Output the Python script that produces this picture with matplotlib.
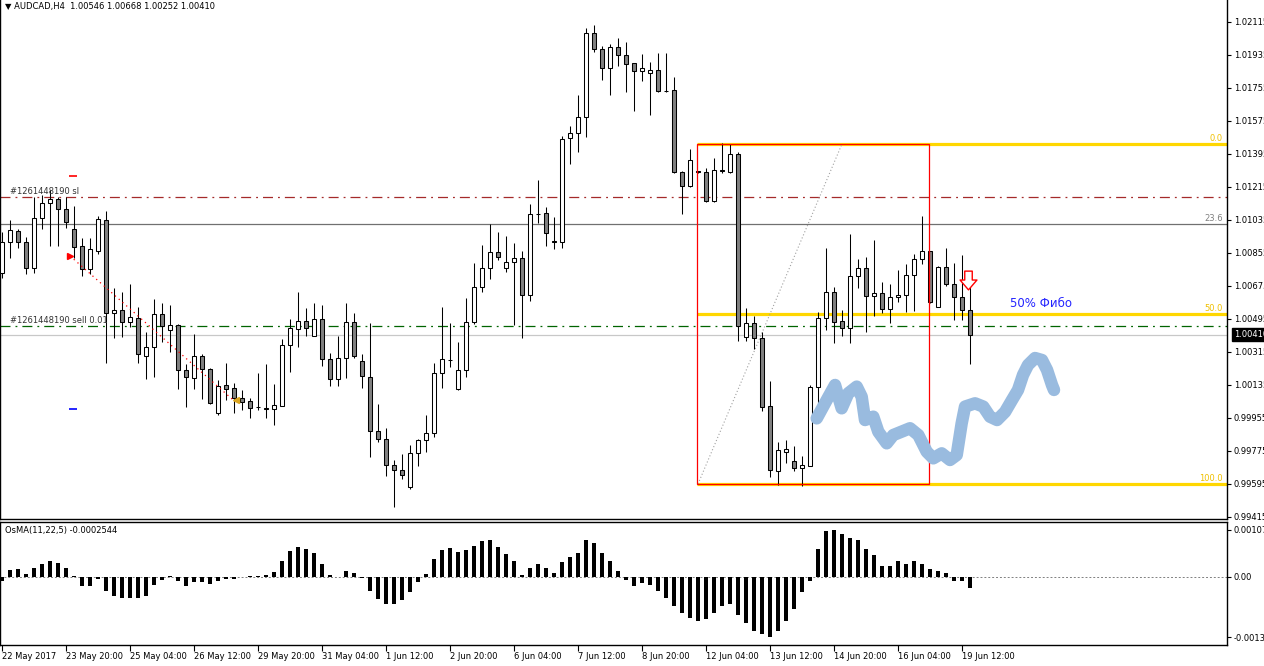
import numpy as np
import pandas as pd
import matplotlib
matplotlib.use('Agg')
import matplotlib.pyplot as plt
from matplotlib.path import Path
from matplotlib.patches import Rectangle

# ---- data (AUDCAD H4) ----
symbol = 'AUDCAD,H4'
opens = [1.00744, 1.00913, 1.00975, 1.00913, 1.00775, 1.01044, 1.01126, 1.01148, 1.01093, 1.00984,
         1.00893, 1.00766, 1.00868, 1.01035, 1.00526, 1.00544, 1.00477, 1.00499, 1.00295, 1.00341,
         1.00521, 1.00435, 1.00462, 1.00217, 1.00172, 1.00293, 1.00221, 0.99981, 1.00133, 1.00117,
         1.00066, 1.00048, 1.00017, 1.00008, 1.00002, 1.00022, 1.00353, 1.00440, 1.00484, 1.00402,
         1.00493, 1.00275, 1.00166, 1.00281, 1.00477, 1.00264, 1.00177, 0.99882, 0.99839, 0.99697,
         0.99670, 0.99580, 0.99762, 0.99835, 0.99871, 1.00199, 1.00274, 1.00112, 1.00215, 1.00477,
         1.00668, 1.00772, 1.00859, 1.00772, 1.00804, 1.00826, 1.00624, 1.01069, 1.01072, 1.00918,
         1.00913, 1.01481, 1.01508, 1.01595, 1.02053, 1.01966, 1.01862, 1.01977, 1.01933, 1.01890,
         1.01849, 1.01835, 1.01852, 1.01739, 1.01742, 1.01298, 1.01220, 1.01301, 1.01298, 1.01137,
         1.01305, 1.01298, 1.01395, 1.00395, 1.00472, 1.00390, 1.00020, 0.99664, 0.99771, 0.99720,
         0.99681, 0.99695, 1.00122, 1.00499, 1.00641, 1.00484, 1.00444, 1.00730, 1.00772, 1.00620,
         1.00635, 1.00548, 1.00613, 1.00626, 1.00735, 1.00821, 1.00864, 1.00559, 1.00777, 1.00684,
         1.00613, 1.00546]
highs = [1.00970, 1.01035, 1.00984, 1.00944, 1.01162, 1.01171, 1.01199, 1.01162, 1.01162, 1.01111,
         1.00935, 1.00935, 1.01057, 1.01086, 1.00666, 1.00641, 1.00686, 1.00562, 1.00426, 1.00602,
         1.00584, 1.00571, 1.00466, 1.00248, 1.00412, 1.00303, 1.00226, 1.00162, 1.00257, 1.00144,
         1.00108, 1.00066, 1.00202, 1.00250, 1.00140, 1.00384, 1.00493, 1.00641, 1.00553, 1.00584,
         1.00571, 1.00311, 1.00404, 1.00584, 1.00526, 1.00304, 1.00472, 1.00031, 0.99899, 0.99726,
         0.99759, 0.99808, 0.99840, 0.99971, 1.00253, 1.00560, 1.00472, 1.00370, 1.00610, 1.00800,
         1.00899, 1.01013, 1.00970, 1.00948, 1.00910, 1.00866, 1.01122, 1.01253, 1.01108, 1.01053,
         1.01493, 1.01548, 1.01717, 1.02081, 1.02099, 1.01984, 1.01995, 1.02026, 1.02004, 1.01890,
         1.01940, 1.01895, 1.01944, 1.01944, 1.01813, 1.01304, 1.01421, 1.01303, 1.01317, 1.01375,
         1.01457, 1.01450, 1.01404, 1.00553, 1.00511, 1.00422, 1.00158, 0.99824, 0.99835, 0.99802,
         0.99748, 1.00135, 1.00533, 1.00884, 1.00671, 1.00544, 1.00959, 1.00821, 1.00832, 1.00926,
         1.00695, 1.00684, 1.00762, 1.00795, 1.00848, 1.01057, 1.00866, 1.00784, 1.00884, 1.00802,
         1.00844, 1.00668]
lows = [1.00719, 1.00829, 1.00884, 1.00739, 1.00744, 1.00986, 1.00895, 1.00895, 1.00990, 1.00826,
        1.00731, 1.00740, 1.00850, 1.00257, 1.00393, 1.00399, 1.00453, 1.00257, 1.00166, 1.00180,
        1.00368, 1.00317, 1.00112, 1.00013, 1.00113, 1.00057, 1.00031, 0.99971, 1.00053, 0.99984,
        0.99999, 0.99953, 0.99999, 0.99953, 0.99917, 1.00020, 1.00208, 1.00344, 1.00402, 1.00400,
        1.00239, 1.00131, 1.00131, 1.00175, 1.00284, 1.00120, 0.99741, 0.99826, 0.99640, 0.99468,
        0.99621, 0.99569, 0.99695, 0.99768, 0.99853, 1.00120, 1.00235, 1.00110, 1.00180, 1.00466,
        1.00644, 1.00715, 1.00817, 1.00753, 1.00462, 1.00393, 1.00595, 1.01020, 1.00895, 1.00878,
        1.00884, 1.01339, 1.01408, 1.01486, 1.01950, 1.01799, 1.01717, 1.01877, 1.01735, 1.01631,
        1.01795, 1.01609, 1.01735, 1.01733, 1.01290, 1.01066, 1.01213, 1.01294, 1.01135, 1.01135,
        1.01290, 1.01293, 1.00377, 1.00377, 1.00333, 0.99995, 0.99635, 0.99590, 0.99708, 0.99668,
        0.99584, 0.99694, 0.99968, 1.00435, 1.00363, 1.00404, 1.00363, 1.00663, 1.00426, 1.00513,
        1.00529, 1.00475, 1.00589, 1.00535, 1.00540, 1.00795, 1.00584, 1.00558, 1.00677, 1.00490,
        1.00490, 1.00252]
closes = [1.00917, 1.00980, 1.00913, 1.00772, 1.01044, 1.01126, 1.01148, 1.01093, 1.01026, 1.00889,
          1.00766, 1.00875, 1.01039, 1.00526, 1.00544, 1.00477, 1.00504, 1.00303, 1.00341, 1.00521,
          1.00457, 1.00462, 1.00217, 1.00177, 1.00293, 1.00221, 1.00035, 1.00130, 1.00112, 1.00066,
          1.00044, 1.00011, 1.00016, 1.00004, 1.00024, 1.00353, 1.00444, 1.00484, 1.00448, 1.00493,
          1.00275, 1.00166, 1.00281, 1.00479, 1.00295, 1.00182, 0.99882, 0.99839, 0.99697, 0.99670,
          0.99642, 0.99762, 0.99835, 0.99871, 1.00199, 1.00275, 1.00271, 1.00215, 1.00477, 1.00668,
          1.00772, 1.00859, 1.00832, 1.00804, 1.00826, 1.00624, 1.01066, 1.01066, 1.00962, 1.00917,
          1.01475, 1.01508, 1.01595, 1.02053, 1.01966, 1.01862, 1.01977, 1.01933, 1.01884, 1.01849,
          1.01862, 1.01852, 1.01737, 1.01736, 1.01298, 1.01220, 1.01361, 1.01297, 1.01137, 1.01308,
          1.01302, 1.01395, 1.00458, 1.00472, 1.00390, 1.00013, 0.99670, 0.99780, 0.99784, 0.99681,
          0.99699, 1.00122, 1.00499, 1.00641, 1.00477, 1.00444, 1.00730, 1.00772, 1.00620, 1.00635,
          1.00548, 1.00613, 1.00626, 1.00735, 1.00821, 1.00864, 1.00586, 1.00777, 1.00684, 1.00613,
          1.00546, 1.00410]
osma = [-0.00010, 0.00015, 0.00017, 0.00007, 0.00020, 0.00029, 0.00037, 0.00032, 0.00020, 0.00001,
        -0.00021, -0.00021, -0.00005, -0.00032, -0.00045, -0.00048, -0.00048, -0.00049, -0.00043, -0.00018,
        -0.00007, 0.00002, -0.00009, -0.00021, -0.00012, -0.00012, -0.00017, -0.00010, -0.00006, -0.00005,
        -0.00001, 0.00001, 0.00002, 0.00005, 0.00010, 0.00037, 0.00058, 0.00067, 0.00064, 0.00055,
        0.00028, 0.00005, -0.00001, 0.00012, 0.00008, -0.00003, -0.00032, -0.00051, -0.00062, -0.00062,
        -0.00054, -0.00034, -0.00012, 0.00007, 0.00041, 0.00062, 0.00066, 0.00057, 0.00060, 0.00071,
        0.00081, 0.00084, 0.00069, 0.00051, 0.00035, 0.00005, 0.00020, 0.00028, 0.00020, 0.00008,
        0.00033, 0.00046, 0.00055, 0.00084, 0.00076, 0.00054, 0.00035, 0.00012, -0.00007, -0.00021,
        -0.00014, -0.00020, -0.00032, -0.00049, -0.00067, -0.00083, -0.00094, -0.00101, -0.00096, -0.00083,
        -0.00067, -0.00062, -0.00087, -0.00105, -0.00123, -0.00132, -0.00138, -0.00123, -0.00101, -0.00074,
        -0.00036, -0.00009, 0.00064, 0.00105, 0.00107, 0.00098, 0.00089, 0.00083, 0.00064, 0.00049,
        0.00025, 0.00025, 0.00036, 0.00029, 0.00036, 0.00029, 0.00018, 0.00014, 0.00009, -0.00009,
        -0.00009, -0.0002544]

# chart objects
fib_high = 1.01450
fib_low = 0.99595
fib_levels = [0.0, 23.6, 50.0, 100.0]
fib_start, fib_box_end, fib_anchor_end = 86.9, 115.9, 105.0
sl_price = 1.01160
entry_price = 1.00457
trade_open = (8.5, 1.00839)
trade_close = (28.9, 1.00053)
sl_mark = (8.9, 1.01275)
tp_mark = (8.9, 1.00004)
signal_arrow = (120.8, 1.00705)
note_pos = (126.0, 1.00577)
forecast_x = [101.84, 103.09, 104.13, 104.54, 104.96, 105.79, 106.84, 107.46, 107.88, 108.91,
              109.54, 110.59, 111.41, 113.5, 114.54, 115.59, 116.41, 117.46, 118.5, 119.34,
              119.96, 120.38, 121.63, 122.66, 123.5, 124.38, 125.38, 126.25, 127.0, 127.63,
              128.25, 129.13, 130.0, 130.63, 131.25, 131.5]
forecast_y = [0.99953, 1.00053, 1.00135, 1.00071, 1.00008, 1.00090, 1.00126, 1.00071, 0.99944, 0.99962,
              0.99880, 0.99817, 0.99862, 0.99899, 0.99862, 0.99771, 0.99735, 0.99762, 0.99726, 0.99753,
              0.99926, 1.00017, 1.00035, 1.00017, 0.99962, 0.99944, 0.99988, 1.00053, 1.00108, 1.00190,
              1.00244, 1.00282, 1.00271, 1.00217, 1.00135, 1.00108]

n = len(opens)
idx = np.arange(n)
times = pd.date_range('2017-05-22 12:00', periods=n * 2, freq='4h')
times = times[times.dayofweek < 5][:n]

o = np.array(opens); h = np.array(highs); l = np.array(lows); c = np.array(closes)

W, H = 1264, 666
fig = plt.figure(figsize=(W / 100, H / 100), dpi=100)
ax = fig.add_axes([0, (H - 519) / H, 1227 / W, 519 / H])
ax2 = fig.add_axes([0, (H - 645) / H, 1227 / W, (645 - 522) / H])

xmin, xmax = -0.25, 153.125
lw1 = 0.75

# candles
ax.vlines(idx, l, h, color='black', lw=lw1, zorder=3)
up = c >= o
bottoms = np.minimum(o, c)
heights = np.maximum(np.abs(c - o), 0.000005)
ax.bar(idx, heights, bottom=bottoms, width=0.58,
       color=np.where(up, 'white', '#808080'), edgecolor='black', linewidth=lw1, zorder=4)

# horizontal lines
ax.axhline(sl_price, color='#a52a2a', lw=0.9, ls=(0, (8, 4, 1.5, 4)), zorder=2)
ax.axhline(entry_price, color='#006400', lw=0.9, ls=(0, (8, 4, 1.5, 4)), zorder=2)
ax.axhline(closes[-1], color='#c8c8c8', lw=0.9, zorder=1)
ax.text(1.0, sl_price + 0.00006, '#1261448190 sl', fontsize=6, color='#333333', va='bottom')
ax.text(1.0, entry_price + 0.00006, '#1261448190 sell 0.01', fontsize=6, color='#333333', va='bottom')

# fibonacci
rng = fib_high - fib_low
for lev in fib_levels:
    price = fib_high - rng * lev / 100.0
    if lev == 23.6:
        ax.axhline(price, color='#707070', lw=0.9, zorder=1)
        col = '#808080'
    else:
        ax.plot([fib_start, xmax], [price, price], color='#ffd700', lw=2.3, zorder=2,
                solid_capstyle='butt')
        col = '#f0c000'
    ax.text(152.6, price + 0.00005, f'{lev:.1f}', fontsize=6, color=col, ha='right', va='bottom')
ax.add_patch(Rectangle((fib_start, fib_low), fib_box_end - fib_start, rng,
                       fill=False, ec='red', lw=0.9, zorder=5))
ax.plot([fib_start + 0.1, fib_anchor_end], [fib_low, fib_high], color='#a0a0a0', lw=0.8,
        ls=(0, (1, 2)), zorder=2)

# trade history
ax.plot([trade_open[0], trade_close[0]], [trade_open[1], trade_close[1]], color='red', lw=0.9,
        ls=(0, (1, 3)), zorder=5)
ax.plot(*trade_open, marker='>', color='red', ms=5, zorder=6)
ax.plot(trade_close[0] + 0.3, trade_close[1], marker='<', color='#daa520', ms=5, zorder=6)
ax.plot(*sl_mark, marker='_', color='red', ms=6, mew=1.2, zorder=6)
ax.plot(*tp_mark, marker='_', color='blue', ms=6, mew=1.2, zorder=6)

# hand drawn forecast
ax.plot(forecast_x, forecast_y, color='#99bbdf', lw=9, solid_capstyle='round',
        solid_joinstyle='round', zorder=6)

# signal arrow
arrow = Path([(-0.4, 1), (0.4, 1), (0.4, 0.05), (0.9, 0.05), (0, -1), (-0.9, 0.05),
              (-0.4, 0.05), (-0.4, 1)], closed=True)
ax.plot(*signal_arrow, marker=arrow, ms=13.5, mfc='white', mec='red', mew=1.0, zorder=7)
ax.text(note_pos[0], note_pos[1], '50% Фибо', fontsize=8.5, color='#2424ff', va='center')

ax.set_xlim(xmin, xmax)
ax.set_ylim(0.99404, 1.02235)
ax.set_xticks([])
ax.yaxis.tick_right()
yt = np.round(1.02115 - 0.0018 * np.arange(16), 5)
ax.set_yticks(yt, [f'{v:.5f}' for v in yt])
ax.tick_params(axis='y', direction='out', length=3, width=0.8, labelsize=6, pad=2)
ax.spines['top'].set_visible(False)
for s in ['left', 'right', 'bottom']:
    ax.spines[s].set_linewidth(1.0)
ax.annotate(f'{closes[-1]:.5f}', xy=(1.0, closes[-1]), xycoords=('axes fraction', 'data'),
            xytext=(5, 0), textcoords='offset points', fontsize=6, color='white', va='center',
            ha='left', bbox=dict(boxstyle='square,pad=0.2', fc='black', ec='black'),
            annotation_clip=False)

fig.text(5 / W, 1 - 7 / H, '\u25BC ' + symbol + '  ' +
         ' '.join(f'{v:.5f}' for v in (opens[-1], highs[-1], lows[-1], closes[-1])),
         fontsize=6, va='center', ha='left')

# OsMA panel
ax2.bar(idx, osma, width=0.38, color='black', zorder=3)
ax2.axhline(0, color='#808080', lw=0.7, ls=(0, (2, 2)), zorder=1)
ax2.set_xlim(xmin, xmax)
ax2.set_ylim(-0.00156, 0.00125)
ax2.yaxis.tick_right()
ax2.set_yticks([max(osma), 0.0, min(osma)],
               [f'{max(osma):.5f}', '0.00', f'{min(osma):.5f}'])
ax2.tick_params(axis='y', direction='out', length=3, width=0.8, labelsize=6, pad=2)
ax2.text(0.004, 0.93, f'OsMA(11,22,5) {osma[-1]:.7f}', transform=ax2.transAxes,
         fontsize=6, va='center', ha='left')
lab_idx = [0] + list(range(8, n, 8))
labs = [f'{times[0].day} {times[0]:%b %Y}'] + [f'{times[i].day} {times[i]:%b %H:%M}' for i in lab_idx[1:]]
ax2.set_xticks(lab_idx, labs, ha='left')
ax2.tick_params(axis='x', direction='out', length=4, width=0.8, labelsize=6, pad=1)
for s in ax2.spines.values():
    s.set_linewidth(1.0)

fig.savefig('out.png', dpi=100)
